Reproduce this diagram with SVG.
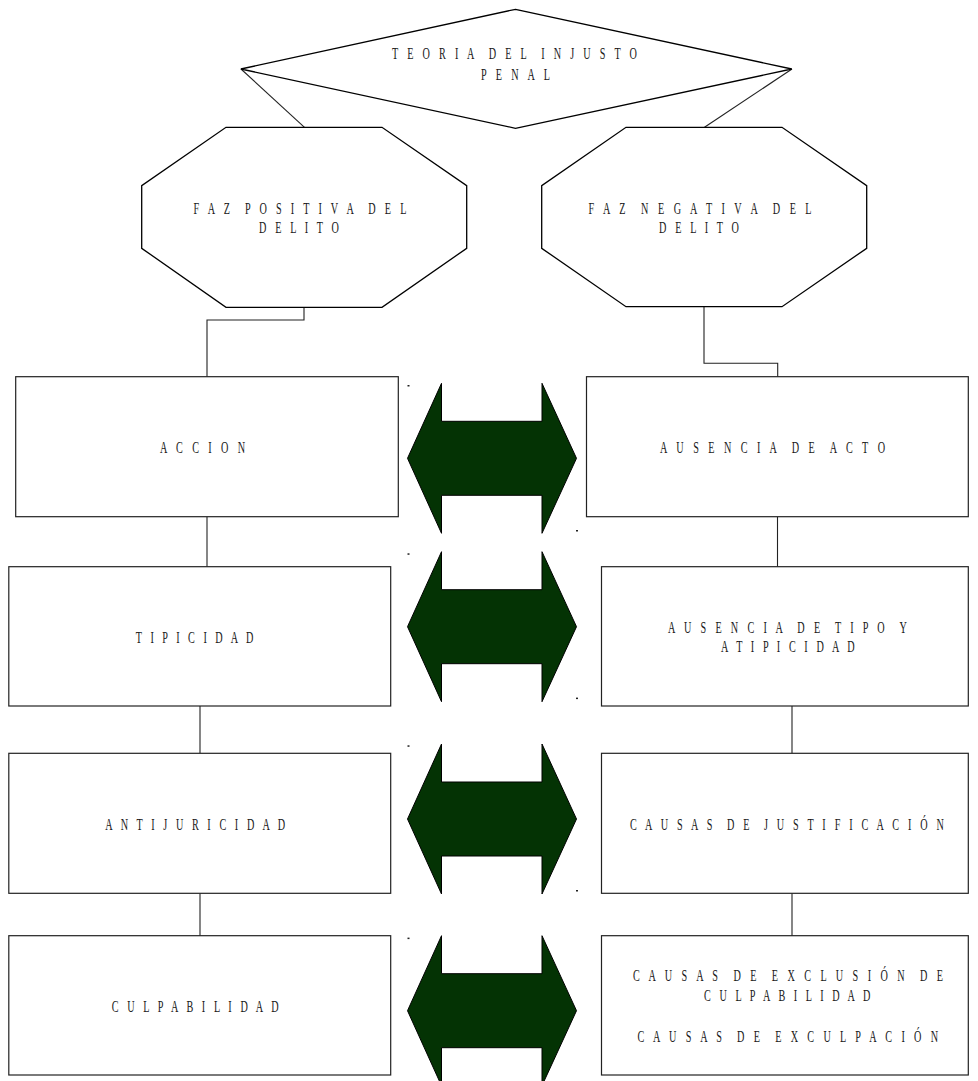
<svg xmlns="http://www.w3.org/2000/svg" xmlns:xlink="http://www.w3.org/1999/xlink" width="978" height="1081" viewBox="0 0 978 1081">
<style>
.shape{fill:#fff;stroke:#000;stroke-width:1.3}
.box{fill:#fff;stroke:#222;stroke-width:1.2}
.conn{fill:none;stroke:#222;stroke-width:1.1}
.arrow{fill:#043304;stroke:#000;stroke-width:1}
.dot{fill:#222}
.t{font-family:"Liberation Serif","Times New Roman",serif;font-size:17px;fill:#1a1a1a;text-anchor:middle;white-space:pre}
</style>
<defs>
<path id="dblarrow" class="arrow" d="M407.5,0 L441.5,-75 L441.5,-37 L542,-37 L542,-75 L576.5,0 L542,75 L542,37 L441.5,37 L441.5,75 Z"/>
</defs>
<rect width="978" height="1081" fill="#fff"/>
<g id="connectors">
<path class="conn" d="M241,69 L304.5,127.3"/>
<path class="conn" d="M792,69 L704.5,127.3"/>
<path class="conn" d="M304,307.3 V320 H207 V376.7"/>
<path class="conn" d="M704,306.7 V363.3 H777.7 V376.7"/>
<path class="conn" d="M207,516.7 V566.7"/>
<path class="conn" d="M777.5,516.7 V566.7"/>
<path class="conn" d="M200,706 V753.3"/>
<path class="conn" d="M792,706 V753.3"/>
<path class="conn" d="M200,893.3 V938"/>
<path class="conn" d="M792,893.3 V938"/>
</g>
<g id="teoria">
<polygon class="shape" points="515.5,9.3 791.8,69 515.5,128.3 240.9,69"/>
<text class="t" xml:space="preserve" transform="translate(514.5,59.3) scale(0.6,1)" textLength="408" lengthAdjust="spacing">T E O R I A  D E L  I N J U S T O</text>
<text class="t" xml:space="preserve" transform="translate(515.5,80) scale(0.6,1)" textLength="115" lengthAdjust="spacing">P E N A L</text>
</g>
<g id="faz-positiva">
<polygon class="shape" points="226,127.3 382,127.3 466.7,185.7 466.7,248.3 382,307.3 226,307.3 141.7,248.3 141.7,185.7"/>
<text class="t" xml:space="preserve" transform="translate(300,214) scale(0.6,1)" textLength="355" lengthAdjust="spacing">F A Z  P O S I T I V A  D E L</text>
<text class="t" xml:space="preserve" transform="translate(299,233.3) scale(0.6,1)" textLength="133" lengthAdjust="spacing">D E L I T O</text>
</g>
<g id="faz-negativa">
<polygon class="shape" points="626,127.3 782,127.3 866.7,185.7 866.7,248.3 782,306.7 626,306.7 541.7,248.3 541.7,185.7"/>
<text class="t" xml:space="preserve" transform="translate(700,214) scale(0.6,1)" textLength="372" lengthAdjust="spacing">F A Z  N E G A T I V A  D E L</text>
<text class="t" xml:space="preserve" transform="translate(699,233.3) scale(0.6,1)" textLength="133" lengthAdjust="spacing">D E L I T O</text>
</g>
<g id="accion">
<rect class="box" x="15.7" y="376.7" width="382.6" height="140"/>
<text class="t" xml:space="preserve" transform="translate(202.5,453.3) scale(0.6,1)" textLength="142" lengthAdjust="spacing">A C C I O N</text>
</g>
<g id="ausencia-acto">
<rect class="box" x="586.5" y="376.7" width="381.8" height="140"/>
<text class="t" xml:space="preserve" transform="translate(772.5,453.3) scale(0.6,1)" textLength="375" lengthAdjust="spacing">A U S E N C I A  D E  A C T O</text>
</g>
<g id="tipicidad">
<rect class="box" x="8.8" y="566.7" width="381.9" height="139.3"/>
<text class="t" xml:space="preserve" transform="translate(194.6,642.7) scale(0.6,1)" textLength="196" lengthAdjust="spacing">T I P I C I D A D</text>
</g>
<g id="ausencia-tipo">
<rect class="box" x="601.5" y="566.7" width="366.8" height="139.3"/>
<text class="t" xml:space="preserve" transform="translate(787.4,632.7) scale(0.6,1)" textLength="398" lengthAdjust="spacing">A U S E N C I A  D E  T I P O  Y</text>
<text class="t" xml:space="preserve" transform="translate(787.8,652.3) scale(0.6,1)" textLength="223" lengthAdjust="spacing">A T I P I C I D A D</text>
</g>
<g id="antijuricidad">
<rect class="box" x="8.8" y="753.3" width="381.9" height="140"/>
<text class="t" xml:space="preserve" transform="translate(195.2,830) scale(0.6,1)" textLength="300" lengthAdjust="spacing">A N T I J U R I C I D A D</text>
</g>
<g id="causas-justificacion">
<rect class="box" x="601.5" y="753.3" width="366.8" height="140"/>
<text class="t" xml:space="preserve" transform="translate(786.9,830) scale(0.6,1)" textLength="523" lengthAdjust="spacing">C A U S A S  D E  J U S T I F I C A C I Ó N</text>
</g>
<g id="culpabilidad">
<rect class="box" x="8.8" y="935.7" width="381.9" height="139.3"/>
<text class="t" xml:space="preserve" transform="translate(195.2,1011.7) scale(0.6,1)" textLength="278" lengthAdjust="spacing">C U L P A B I L I D A D</text>
</g>
<g id="causas-exclusion">
<rect class="box" x="601.5" y="935.7" width="366.8" height="139.3"/>
<text class="t" xml:space="preserve" transform="translate(788,980.7) scale(0.6,1)" textLength="517" lengthAdjust="spacing">C A U S A S  D E  E X C L U S I Ó N  D E</text>
<text class="t" xml:space="preserve" transform="translate(787.2,1000.7) scale(0.6,1)" textLength="277" lengthAdjust="spacing">C U L P A B I L I D A D</text>
<text class="t" xml:space="preserve" transform="translate(787.8,1041.7) scale(0.6,1)" textLength="501" lengthAdjust="spacing">C A U S A S  D E  E X C U L P A C I Ó N</text>
</g>
<g id="arrows">
<use xlink:href="#dblarrow" href="#dblarrow" transform="translate(0,458.3)"/>
<use xlink:href="#dblarrow" href="#dblarrow" transform="translate(0,626.7)"/>
<use xlink:href="#dblarrow" href="#dblarrow" transform="translate(0,819)"/>
<use xlink:href="#dblarrow" href="#dblarrow" transform="translate(0,1010.7)"/>
</g>
<g id="marks">
<rect class="dot" x="407.5" y="385" width="2" height="1.5"/>
<rect class="dot" x="576" y="530" width="2" height="1.5"/>
<rect class="dot" x="407.5" y="553.3" width="2" height="1.5"/>
<rect class="dot" x="576" y="697.6" width="2" height="1.5"/>
<rect class="dot" x="407.5" y="745.3" width="2" height="1.5"/>
<rect class="dot" x="576" y="890" width="2" height="1.5"/>
<rect class="dot" x="407.5" y="937.6" width="2" height="1.5"/>
</g>
</svg>
